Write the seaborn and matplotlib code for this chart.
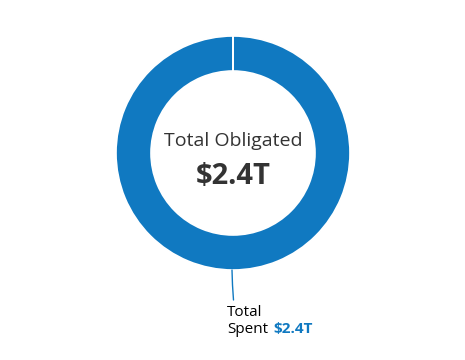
import matplotlib
matplotlib.use("Agg")
import matplotlib.pyplot as plt
import seaborn as sns

# values in trillions
obligated = 2.4
spent = 2.4
slice_labels = ["Spent", "Unspent"]
slice_values = [spent, obligated - spent + 0.0001]

blue = "#1079c1"
dark = "#333333"

sns.set_theme(style="white")
plt.rcParams["font.family"] = ["Open Sans", "DejaVu Sans"]

fig = plt.figure(figsize=(4.65, 3.6), dpi=100)
ax = fig.add_axes([0, 0, 1, 1])
ax.set_xlim(0, 465)
ax.set_ylim(0, 360)
ax.set_aspect("equal")
ax.axis("off")

cx, cy = 233, 360 - 153
ax.pie(slice_values, center=(cx, cy), radius=117, startangle=90, counterclock=False,
       colors=[blue, blue], wedgeprops=dict(width=35, edgecolor="white", linewidth=1.2),
       frame=True)
ax.set_xlim(0, 465)
ax.set_ylim(0, 360)
ax.axis("off")

ax.text(cx, 360 - 146, "Total Obligated", ha="center", va="baseline", fontsize=14, color=dark)
ax.text(cx, 360 - 184, f"${obligated}T", ha="center", va="baseline", fontsize=21,
        fontweight="bold", color=dark)

# leader line to the label
ax.plot([232, 232.5, 233.5], [360 - 270, 360 - 285, 360 - 300], color=blue, lw=1)
ax.text(227, 360 - 316, "Total", ha="left", va="baseline", fontsize=11, color="black")
ax.text(227, 360 - 333, "Spent", ha="left", va="baseline", fontsize=11, color="black")
ax.text(273, 360 - 333, f"${spent}T", ha="left", va="baseline", fontsize=11,
        fontweight="bold", color=blue)

fig.savefig("out.png", dpi=100)
